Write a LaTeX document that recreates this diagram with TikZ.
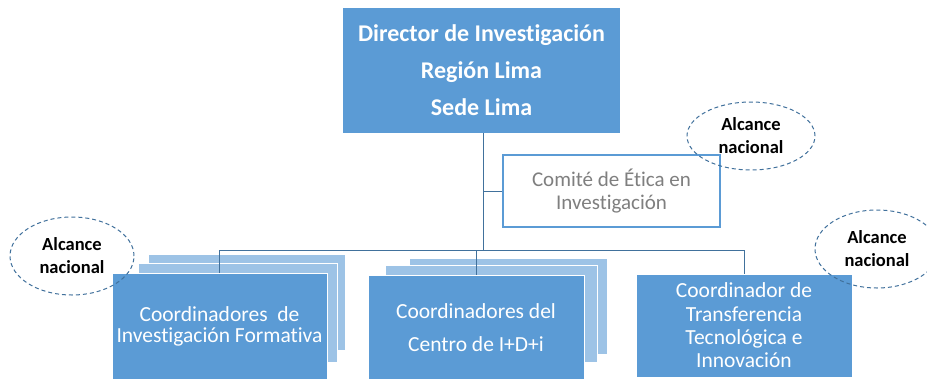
\documentclass[tikz,border=0pt]{standalone}
\usepackage{fontspec}
\setmainfont{Carlito}[Ligatures={NoCommon,NoDiscretionary}]
\usetikzlibrary{shapes.geometric}
\definecolor{mainblue}{HTML}{5B9BD5}
\definecolor{lightblue}{HTML}{9DC3E6}
\definecolor{lineblue}{HTML}{41719C}
\definecolor{greytext}{HTML}{7F7F7F}
\tikzset{
  frontbox/.style={draw=white, line width=1pt, fill=mainblue, text=white, inner sep=0pt, align=center, font=\fontsize{21.5}{21.5}\selectfont},
  backbox/.style={draw=white, line width=1pt, fill=lightblue, inner sep=0pt},
  dirbox/.style={fill=mainblue, text=white, inner sep=0pt, align=center, font=\bfseries\fontsize{24}{37}\selectfont},
  combox/.style={draw=mainblue, line width=1.1pt, fill=white, text=greytext, inner sep=0pt, align=center, font=\fontsize{21}{22.5}\selectfont},
  conn/.style={draw=lineblue, line width=0.9pt},
  scope/.style={draw=lineblue, dashed, dash pattern=on 4pt off 3pt, line width=1pt, ellipse, inner sep=0pt, align=center, font=\bfseries\fontsize{18.5}{23}\selectfont, text=black}
}
\begin{document}
\begin{tikzpicture}[x=1pt,y=-1pt]
\useasboundingbox[fill=white] (0,0) rectangle (927,378);
% director
\node[dirbox, minimum width=277pt, minimum height=125pt] (dir) at (481.5,70.5)
  {Director de Investigación\\Región Lima\\Sede Lima};
% comite
\node[combox, minimum width=217pt, minimum height=72pt] (com) at (611.5,191)
  {Comité de Ética en\\Investigación};
% back boxes
\node[backbox, minimum width=197pt, minimum height=96pt] (lb3) at (246.5,302) {};
\node[backbox, minimum width=199pt, minimum height=99pt] (lb2) at (237.5,312.5) {};
\node[backbox, minimum width=198pt, minimum height=96pt] (mb3) at (508,306) {};
\node[backbox, minimum width=212pt, minimum height=97pt] (mb2) at (491,313.5) {};
% bus
\coordinate (bus) at (483,250);
% front boxes
\node[frontbox, minimum width=215pt, minimum height=107pt] (lf) at (219.5,326.5)
  {Coordinadores\ \ de\\Investigación Formativa};
\node[frontbox, minimum width=216pt, minimum height=106pt, font=\fontsize{21.5}{33}\selectfont] (mf) at (476,328)
  {Coordinadores del\\Centro de I+D+i};
\node[frontbox, minimum width=216pt, minimum height=103pt, font=\fontsize{21.5}{23.3}\selectfont] (rt) at (744,325.5)
  {Coordinador de\\Transferencia\\Tecnológica e\\Innovación};
% connectors
\draw[conn] (dir.south -| bus) -- (bus);
\draw[conn] (com.west -| bus) -- (com.west);
\draw[conn] (lf.north |- bus) -- (rt.north |- bus);
\draw[conn] (lf.north |- bus) -- (lf.north);
\draw[conn] (mf.north |- bus) -- (mf.north);
\draw[conn] (rt.north |- bus) -- (rt.north);
% scope ellipses
\node[scope, minimum width=128pt, minimum height=68pt] (e1) at (751,136) {Alcance\\nacional};
\node[scope, minimum width=124pt, minimum height=78pt] (e2) at (72,256) {Alcance\\nacional};
\node[scope, minimum width=124pt, minimum height=78pt] (e3) at (877,249) {Alcance\\nacional};
\end{tikzpicture}
\end{document}
